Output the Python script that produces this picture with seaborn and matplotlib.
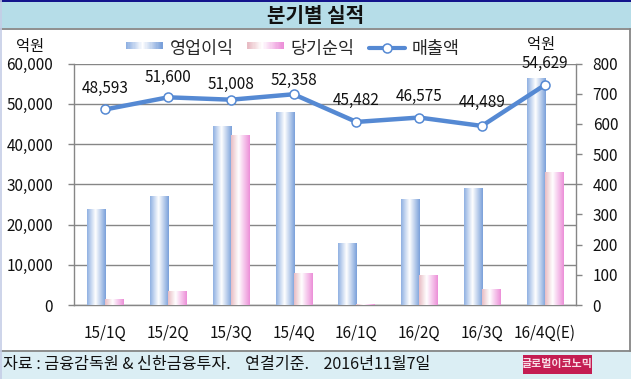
import numpy as np
import pandas as pd
import matplotlib
matplotlib.use("Agg")
import matplotlib.pyplot as plt
import seaborn as sns
from matplotlib.patches import Rectangle, Patch
from matplotlib.lines import Line2D
from matplotlib.colors import LinearSegmentedColormap
from matplotlib.legend_handler import HandlerBase

# ---------------- data ----------------
categories = ["15/1Q", "15/2Q", "15/3Q", "15/4Q", "16/1Q", "16/2Q", "16/3Q", "16/4Q(E)"]
op_profit = [318, 361, 592, 639, 205, 351, 387, 751]      # 영업이익 (right axis)
net_income = [17, 44, 563, 104, 3, 99, 53, 440]           # 당기순익 (right axis)
revenue = [48593, 51600, 51008, 52358, 45482, 46575, 44489, 54629]  # 매출액 (left axis)
left_ticks = [0, 10000, 20000, 30000, 40000, 50000, 60000]
right_ticks = [0, 100, 200, 300, 400, 500, 600, 700, 800]
series_names = ["영업이익", "당기순익", "매출액"]

# ---------------- style ----------------
sns.set_style("white")
FONT = ["Noto Sans CJK KR", "DejaVu Sans"]
plt.rcParams["font.family"] = FONT
plt.rcParams["axes.unicode_minus"] = False

W, H = 631, 379
fig = plt.figure(figsize=(W / 100, H / 100), dpi=100)
fig.patch.set_facecolor("white")

def fx(px):
    return px / W

def fy(py):
    return 1 - py / H

GRAY = "#868686"
LINE_BLUE = "#5589d3"
blue_cmap = LinearSegmentedColormap.from_list(
    "blu", [(0, "#8fb0e2"), (0.45, "#ffffff"), (1, "#7aa0da")])
pink_cmap = LinearSegmentedColormap.from_list(
    "pnk", [(0, "#e8bcc4"), (0.4, "#ffffff"), (1, "#ec8ed8")])

# background bands
fig.patches.append(Rectangle((0, fy(379)), 1, (379 - 350) / H, transform=fig.transFigure,
                             facecolor="#dbeef4", edgecolor="none", zorder=0))
fig.patches.append(Rectangle((0, fy(28)), 1, 28 / H, transform=fig.transFigure,
                             facecolor="#b6dde8", edgecolor="none", zorder=0))
fig.lines.append(Line2D([0, 1], [fy(0.6), fy(0.6)], transform=fig.transFigure,
                        color="#10108a", lw=1.4, zorder=2))
fig.lines.append(Line2D([0, fx(630.5)], [fy(28.5), fy(28.5)], transform=fig.transFigure,
                        color=GRAY, lw=1.3, zorder=2))
fig.lines.append(Line2D([fx(0.5), fx(630.5)], [fy(350.5), fy(350.5)], transform=fig.transFigure,
                        color=GRAY, lw=1.3, zorder=2))
fig.lines.append(Line2D([fx(630.3), fx(630.3)], [fy(28.5), fy(350.5)], transform=fig.transFigure,
                        color=GRAY, lw=1.3, zorder=2))
fig.lines.append(Line2D([fx(0.5), fx(0.5)], [fy(0), fy(379)], transform=fig.transFigure,
                        color="#c5cde6", lw=1.2, zorder=2))

# title
fig.text(fx(316), fy(15), "분기별 실적", ha="center", va="center",
         fontsize=14.5, fontweight="bold", color="#111111")

# ---------------- axes ----------------
x0, x1, ytop, ybot = 74, 576, 63.5, 305
ax = fig.add_axes([fx(x0), fy(ybot), fx(x1) - fx(x0), (ybot - ytop) / H])
ax2 = ax.twinx()
ax3 = ax.twinx()
ax.set_zorder(0)
ax2.set_zorder(1)
ax3.set_zorder(2)
ax.patch.set_visible(False)
ax2.patch.set_visible(False)
ax3.patch.set_visible(False)

# bars (right axis)
df = pd.DataFrame({
    "cat": categories * 2,
    "series": [series_names[0]] * len(categories) + [series_names[1]] * len(categories),
    "value": op_profit + net_income,
})
pal = {series_names[0]: "#8fb0e2", series_names[1]: "#ec8ed8"}
sns.barplot(data=df, x="cat", y="value", hue="series", order=categories,
            hue_order=series_names[:2], palette=pal, width=0.574, dodge=True,
            ax=ax2, legend=False, saturation=1, edgecolor="none", linewidth=0)

# gradient fill on each bar
grad = np.linspace(0, 1, 128)[np.newaxis, :]
for p in list(ax2.patches):
    fc = p.get_facecolor()
    cmap = blue_cmap if fc[2] > fc[0] else pink_cmap
    bx, by, bw, bh = p.get_x(), p.get_y(), p.get_width(), p.get_height()
    if bh <= 0:
        continue
    ax2.imshow(grad, cmap=cmap, extent=[bx, bx + bw, by, by + bh], aspect="auto",
               zorder=p.get_zorder() + 0.1, interpolation="bilinear")

# line (left axis scale) on top
sns.lineplot(x=categories, y=revenue, ax=ax3, sort=False, color=LINE_BLUE, lw=3.2,
             marker="o", markersize=6.5, markerfacecolor="white",
             markeredgecolor=LINE_BLUE, markeredgewidth=1.1, legend=False)

label_off = [21, 20, 15, 14, 21, 21, 23, 22]
for i, v in enumerate(revenue):
    ax3.annotate(f"{v:,}", (i, v), xytext=(0, label_off[i] * 0.72), textcoords="offset points",
                 ha="center", va="center", fontsize=11, color="#111111")

# limits
for a in (ax, ax3):
    a.set_ylim(left_ticks[0], left_ticks[-1])
ax2.set_ylim(right_ticks[0], right_ticks[-1])
ax.set_xlim(-0.5, len(categories) - 0.5)

# grid on base axis
ax.set_yticks(left_ticks)
ax.set_yticklabels([f"{t:,}" for t in left_ticks])
ax.grid(axis="y", color=GRAY, lw=1.0)
ax.grid(axis="x", visible=False)
ax.tick_params(axis="y", which="major", direction="out", length=4, width=1, color=GRAY,
               pad=11, labelsize=11, labelcolor="#111111", left=True, right=False)

# x ticks: labels at centers, tick marks between categories
ax.set_xticks(range(len(categories)))
ax.set_xticklabels(categories)
ax.set_xticks(np.arange(-0.5, len(categories), 1.0), minor=True)
ax.tick_params(axis="x", which="major", length=0, pad=14, labelsize=11, labelcolor="#111111")
ax.tick_params(axis="x", which="minor", direction="out", length=5, width=1, color=GRAY)
ax.set_xlabel("")
ax.set_ylabel("")

ax2.set_yticks(right_ticks)
ax2.set_yticklabels([str(t) for t in right_ticks])
ax2.tick_params(axis="y", direction="out", length=4, width=1, color=GRAY, pad=8,
                labelsize=11, labelcolor="#111111", right=True, left=False)
ax2.set_ylabel("")
ax2.set_xlabel("")
ax2.grid(False)

ax3.set_yticks([])
ax3.set_ylabel("")
ax3.set_xlabel("")
ax3.grid(False)

for a in (ax, ax2, ax3):
    for s in a.spines.values():
        s.set_visible(False)
ax.spines["left"].set_visible(True)
ax.spines["bottom"].set_visible(True)
ax2.spines["right"].set_visible(True)
for s in (ax.spines["left"], ax.spines["bottom"], ax2.spines["right"]):
    s.set_color(GRAY)
    s.set_linewidth(1.0)

# unit labels
fig.text(fx(30), fy(46), "억원", ha="center", va="center", fontsize=11, color="#111111")
fig.text(fx(541), fy(44), "억원", ha="center", va="center", fontsize=11, color="#111111")

# ---------------- legend ----------------
class GradientHandler(HandlerBase):
    def __init__(self, cmap):
        super().__init__()
        self.cmap = cmap

    def create_artists(self, legend, orig_handle, xdescent, ydescent, width, height,
                       fontsize, trans):
        n = 30
        arts = []
        rh = height * 0.5
        ry = -ydescent + height * 0.45
        for i in range(n):
            r = Rectangle((-xdescent + i * width / n, ry), width / n * 1.15, rh,
                          facecolor=self.cmap(i / (n - 1)), edgecolor="none",
                          antialiased=False, transform=trans)
            arts.append(r)
        return arts

h_op = Patch(label=series_names[0])
h_ni = Patch(label=series_names[1])
h_rev = Line2D([], [], color=LINE_BLUE, lw=3, marker="o", markersize=6.5,
               markerfacecolor="white", markeredgecolor=LINE_BLUE, markeredgewidth=1.1,
               label=series_names[2])
fig.legend(handles=[h_op, h_ni, h_rev], labels=series_names, loc="center",
           bbox_to_anchor=(fx(293), fy(49)), ncol=3, frameon=False, fontsize=12.5,
           handlelength=2.1, handleheight=0.7, handletextpad=0.4, columnspacing=0.8,
           borderaxespad=0, borderpad=0,
           handler_map={h_op: GradientHandler(blue_cmap), h_ni: GradientHandler(pink_cmap)})

# ---------------- footer ----------------
fig.text(fx(3), fy(364), "자료 : 금융감독원 & 신한금융투자.    연결기준.    2016년11월7일",
         ha="left", va="center", fontsize=11.6, color="#111111")
fig.patches.append(Rectangle((fx(523), fy(374)), fx(592) - fx(523), (374 - 355) / H,
                             transform=fig.transFigure, facecolor="#c41d52",
                             edgecolor="none", zorder=3))
fig.text(fx(557.5), fy(364.5), "글로벌이코노믹", ha="center", va="center", fontsize=7.9,
         fontweight="bold", color="#f8dce6", zorder=4)

fig.savefig("out.png", dpi=100)
